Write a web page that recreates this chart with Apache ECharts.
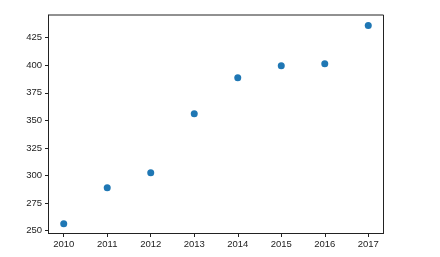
<!DOCTYPE html>
<html>
<head>
<meta charset="utf-8">
<script src="https://cdn.jsdelivr.net/npm/echarts@6/dist/echarts.min.js"></script>
<style>html,body{margin:0;padding:0;background:#fff}#c{width:440px;height:257px}</style>
</head>
<body>
<div id="c"></div>
<script>
const years = [2010, 2011, 2012, 2013, 2014, 2015, 2016, 2017];
const values = [256.3, 289, 302.6, 356.1, 388.7, 399.6, 401.4, 435.9];
const yTicks = [250, 275, 300, 325, 350, 375, 400, 425];
const xTicks = [2010, 2011, 2012, 2013, 2014, 2015, 2016, 2017];

const chart = echarts.init(document.getElementById('c'), null, {renderer: 'canvas'});
const axisFont = {fontFamily: 'Liberation Sans', fontSize: 9.5, color: '#222'};
chart.setOption({
  animation: false,
  grid: {left: 48.5, top: 15, right: 56.5, bottom: 23.5, show: true, borderColor: '#222', borderWidth: 1, backgroundColor: 'transparent'},
  xAxis: {
    type: 'value', min: 2009.65, max: 2017.35,
    axisLine: {show: true, lineStyle: {color: '#222', width: 1}},
    axisTick: {show: true, length: 3.5, inside: false, customValues: xTicks, lineStyle: {color: '#222'}},
    axisLabel: {show: true, customValues: xTicks, margin: 6, ...axisFont, formatter: v => String(v)},
    splitLine: {show: false}
  },
  yAxis: {
    type: 'value', min: 247.5, max: 445.5,
    axisLine: {show: true, lineStyle: {color: '#222', width: 1}},
    axisTick: {show: true, length: 3.5, inside: false, customValues: yTicks, lineStyle: {color: '#222'}},
    axisLabel: {show: true, customValues: yTicks, margin: 6.5, ...axisFont, formatter: v => String(v)},
    splitLine: {show: false}
  },
  series: [{
    type: 'scatter',
    data: years.map((y, i) => [y, values[i]]),
    symbolSize: 7,
    itemStyle: {color: '#1f77b4', opacity: 1}
  }]
});
</script>
</body>
</html>
